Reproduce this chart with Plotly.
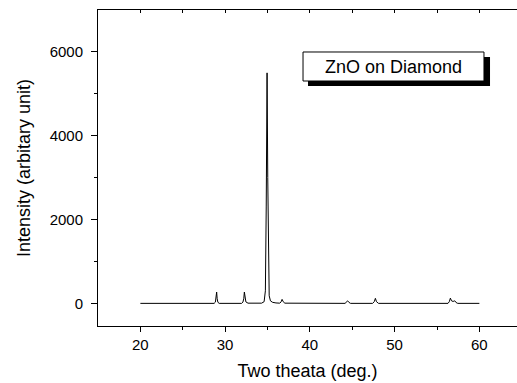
import plotly.graph_objects as go

# XRD pattern (2-theta in degrees, intensity in arbitrary units)
two_theta = [20.0, 28.7, 28.85, 28.93, 29.0, 29.06, 29.15, 29.3,
             31.95, 32.1, 32.2, 32.27, 32.34, 32.45, 32.7,
             34.3, 34.6, 34.75, 34.85, 34.95, 35.03, 35.1, 35.2, 35.35, 35.6, 36.0,
             36.45, 36.6, 36.72, 36.85, 37.05,
             44.15, 44.32, 44.46, 44.6, 44.8,
             47.4, 47.6, 47.73, 47.86, 48.1,
             56.3, 56.45, 56.58, 56.72, 56.9, 57.05, 57.13, 57.25, 57.45, 60.0]
intensity = [0, 0, 30, 120, 270, 110, 25, 0,
             0, 30, 110, 270, 120, 35, 5,
             5, 40, 300, 2300, 5500, 3000, 700, 180, 60, 25, 10,
             5, 35, 95, 40, 5,
             0, 25, 60, 25, 0,
             0, 40, 120, 40, 0,
             0, 40, 125, 60, 45, 60, 55, 20, 0, 0]

x_ticks = [20, 30, 40, 50, 60]
y_ticks = [0, 2000, 4000, 6000]
x_title = "Two theata (deg.)"
y_title = "Intensity (arbitary unit)"
label_text = "ZnO on Diamond"

X_RANGE = [15, 64.44]
Y_RANGE = [-540, 7000]

fig = go.Figure()
fig.add_trace(go.Scatter(x=two_theta, y=intensity, mode="lines",
                         line=dict(color="black", width=1), showlegend=False,
                         hoverinfo="skip"))
# dummy trace so the top mirror axis is drawn
fig.add_trace(go.Scatter(x=[X_RANGE[0]], y=[Y_RANGE[0]], xaxis="x2", mode="markers",
                         marker=dict(opacity=0), showlegend=False, hoverinfo="skip"))

font_family = "Arial, 'Liberation Sans', sans-serif"

fig.update_layout(
    width=517, height=383,
    margin=dict(l=98, r=0, t=10, b=57),
    paper_bgcolor="white", plot_bgcolor="white",
    font=dict(family=font_family, color="black", size=15),
    xaxis=dict(range=X_RANGE, tickvals=x_ticks, ticks="outside", ticklen=5,
               tickwidth=1, tickcolor="black", showline=True, linecolor="black",
               linewidth=1, showgrid=False, zeroline=False,
               minor=dict(tickvals=[25, 35, 45, 55], ticks="outside", ticklen=3,
                          tickcolor="black", showgrid=False),
               tickfont=dict(size=15), ticklabelstandoff=0,
               title=dict(text=x_title, font=dict(size=18), standoff=12),
               automargin=False),
    xaxis2=dict(range=X_RANGE, overlaying="x", side="top", showline=True,
                linecolor="black", linewidth=1, ticks="inside", ticklen=3,
                tickcolor="black", tickvals=[20, 25, 30, 35, 40, 45, 50, 55, 60],
                showticklabels=False, showgrid=False, zeroline=False),
    yaxis=dict(range=Y_RANGE, tickvals=y_ticks, ticks="outside", ticklen=6,
               tickwidth=1, tickcolor="black", showline=True, linecolor="black",
               linewidth=1, showgrid=False, zeroline=False,
               minor=dict(tickvals=[1000, 3000, 5000], ticks="outside", ticklen=3,
                          tickcolor="black", showgrid=False),
               tickfont=dict(size=15), ticklabelstandoff=5,
               title=dict(text=y_title, font=dict(size=18), standoff=14),
               automargin=False),
    shapes=[
        dict(type="rect", xref="paper", yref="paper", x0=0.5012, x1=0.9356,
             y0=0.7595, y1=0.8513, fillcolor="black", line=dict(width=0)),
        dict(type="rect", xref="paper", yref="paper", x0=0.4893, x1=0.9212,
             y0=0.7753, y1=0.8671, fillcolor="white",
             line=dict(color="black", width=1)),
    ],
    annotations=[
        dict(text=label_text, xref="paper", yref="paper", x=0.705, y=0.821,
             xanchor="center", yanchor="middle", showarrow=False,
             font=dict(size=18, family=font_family, color="black")),
    ],
)

fig.write_html("out.html", config={"displayModeBar": False},
               post_script="document.body.style.margin='0';document.body.style.padding='0';")
